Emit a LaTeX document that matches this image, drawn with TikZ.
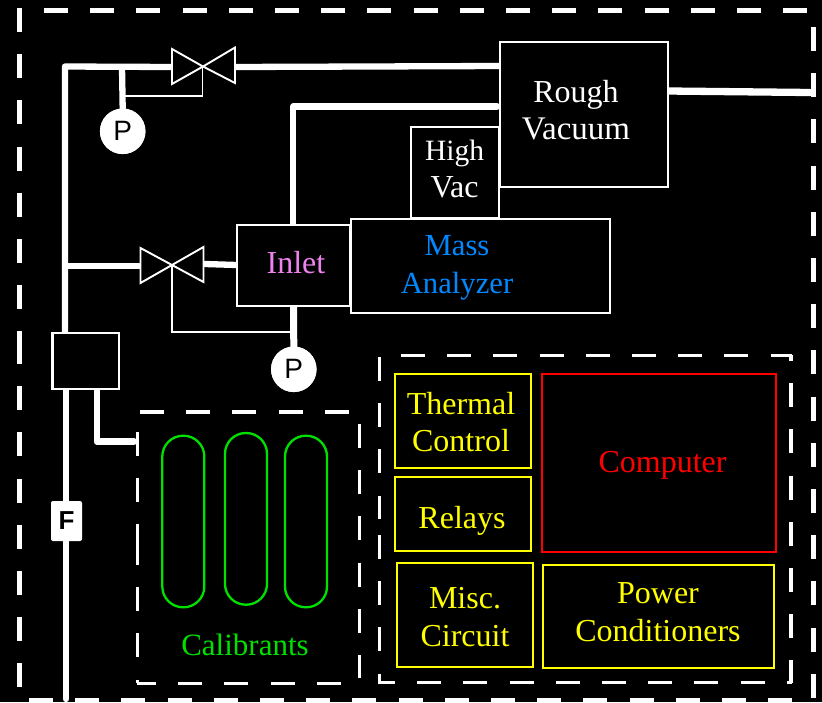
\documentclass[tikz,border=0pt]{standalone}
\usepackage{fontspec}
\setmainfont{Liberation Serif}
\setsansfont{Liberation Sans}
\definecolor{massblue}{RGB}{0,136,255}
\definecolor{inletpink}{RGB}{238,130,238}
\definecolor{calgreen}{RGB}{0,225,0}
\definecolor{yel}{RGB}{255,255,0}
\definecolor{compred}{RGB}{255,0,0}
\begin{document}
\begin{tikzpicture}[x=1pt,y=-1pt,
  box/.style={draw=#1,line width=2.3pt,fill=black,anchor=north west,inner sep=0pt,outer sep=0pt},
  lbl/.style={text=#1,align=center,inner sep=0pt,font=\fontsize{32}{37.5}\selectfont},
  pipe/.style={draw=white,line width=6.3pt,line cap=round,line join=round},
  thin line/.style={draw=white,line width=1.9pt},
  valve/.style={draw=white,line width=1.9pt,line join=miter,fill=black},
  dashline/.style={draw=white,line width=5pt,dash pattern=on 24pt off 22.2pt},
  innerdash/.style={draw=white,line width=3.6pt,dash pattern=on 24pt off 22.2pt},
  gauge/.style={circle,fill=white,draw=none,minimum size=45.5pt,inner sep=0pt,text=black,font=\sffamily\fontsize{28}{28}\selectfont},
  capsule/.style={draw=calgreen,line width=2.3pt,rounded corners=20.8pt}]
\useasboundingbox[fill=black] (0,0) rectangle (822,702);
% outer dashed border
\draw[dashline] (19.5,8) -- (19.5,356);
\draw[dashline] (19.5,340) -- (19.5,688);
\draw[dashline] (44,10.5) -- (808,10.5);
\draw[dashline] (813.3,27) -- (813.3,699);
\draw[dashline] (29,700.5) -- (793,700.5);
% pipes, drawn first so boxes cover the ends
\coordinate (tl) at (65,66.5);
\coordinate (gaugeT) at (122,67);
\coordinate (v1L) at (172,67);
\coordinate (v1R) at (235,67);
\coordinate (rvL) at (500,66);
\coordinate (hvT) at (293.3,106.5);
\coordinate (rvL2) at (497,106.5);
\coordinate (inT) at (293.3,225);
\coordinate (b2) at (65,266);
\coordinate (v2L) at (139,266);
\coordinate (v2R) at (205,264);
\coordinate (inL) at (237,265);
\coordinate (inB) at (293.5,306);
\coordinate (sbT) at (65,333);
\coordinate (sbB) at (66,389);
\coordinate (bot) at (66,699);
\coordinate (sbB2) at (96.7,389);
\coordinate (corner) at (96.7,441.5);
\coordinate (cal) at (134,441.5);
\coordinate (rvR) at (668,91);
\coordinate (ext) at (810,92.5);
\coordinate (v1C) at (202.5,66);
\coordinate (v2C) at (172,265);
\node[gauge] (p1) at (122.7,131.3) {};
\node[gauge] (p2) at (293.8,369.3) {};
\draw[pipe] (sbT) -- (tl) -- (v1L);
\draw[pipe] (gaugeT) -- (p1.north);
\draw[pipe] (v1R) -- (rvL);
\draw[pipe] (rvL2) -- (hvT) -- (inT);
\draw[pipe] (b2) -- (v2L);
\draw[pipe] (v2R) -- (inL);
\draw[pipe,line width=7pt] (inB) -- (p2.north);
\draw[pipe] (sbB) -- (bot);
\draw[pipe] (sbB2) -- (corner) -- (cal);
\draw[pipe,line width=7.3pt] (rvR) -- (ext);
% thin sense lines
\draw[thin line] (125,96) -| (v1C);
\draw[thin line] (v2C) |- (290,331.7);
% valves
\draw[valve] (172,49) -- (203,66.5) -- (172,84) -- cycle;
\draw[valve] (235,47.5) -- (203,66.5) -- (235,83) -- cycle;
\draw[valve] (140.5,248) -- (172,265) -- (140.5,283) -- cycle;
\draw[valve] (203.5,247) -- (172,265) -- (203.5,282) -- cycle;
% gauges on top
\node[gauge] at (p1) {P};
\node[gauge] at (p2) {P};
% main boxes
\node[box=white,minimum width=168pt,minimum height=145pt] (rough) at (500,42) {};
\node[lbl=white] at (576,110) {Rough\\{\fontsize{33}{37.5}\selectfont Vacuum}};
\node[box=white,minimum width=88pt,minimum height=91pt] (hv) at (411,127) {};
\node[lbl=white] at (454.5,169) {{\fontsize{29.5}{37.5}\selectfont High}\\Vac};
\node[box=white,minimum width=259pt,minimum height=94pt] (mass) at (351,219) {};
\node[lbl=massblue,font=\fontsize{30.7}{37.5}\selectfont] at (457,268) {Mass\\Analyzer};
\node[box=white,minimum width=113.5pt,minimum height=81pt] (inlet) at (237,225) {};
\node[lbl=inletpink] at (296,263) {Inlet};
\node[box=white,minimum width=66.5pt,minimum height=56pt] (splitter) at (52.5,333.3) {};
% filter
\node[fill=white,rounded corners=2pt,minimum width=31pt,minimum height=40pt,inner sep=0pt,text=black,font=\sffamily\bfseries\fontsize{26}{26}\selectfont] (filter) at (66.5,521) {F};
% calibrants enclosure
\draw[innerdash] (137.3,432) -- (137.3,548);
\draw[innerdash] (137.3,541) -- (137.3,683.3);
\draw[innerdash] (140,412) -- (349,412);
\draw[innerdash] (359.3,424) -- (359.3,678);
\draw[innerdash,dash phase=5pt] (137,683.3) -- (341,683.3);
\draw[capsule] (162.3,435.7) rectangle (204.3,607.3);
\draw[capsule] (225,433) rectangle (267,604.7);
\draw[capsule] (285,435.7) rectangle (327,607.3);
\node[lbl=calgreen,font=\fontsize{31}{37.5}\selectfont] at (245,645) {Calibrants};
% electronics enclosure
\draw[innerdash] (379.3,357) -- (379.3,519);
\draw[innerdash] (379.3,535) -- (379.3,684);
\draw[innerdash] (401,355.3) -- (792,355.3);
\draw[innerdash,dash phase=18pt] (790.7,355) -- (790.7,683);
\draw[innerdash,dash phase=7pt] (378,682.3) -- (792,682.3);
\node[box=yel,minimum width=136pt,minimum height=94pt] (thermal) at (395,374.3) {};
\node[lbl=yel] at (461,422) {Thermal\\Control};
\node[box=yel,minimum width=136pt,minimum height=74pt] (relays) at (395,476.7) {};
\node[lbl=yel] at (462,521) {Relays};
\node[box=yel,minimum width=136pt,minimum height=104pt] (misc) at (396.7,562.7) {};
\node[lbl=yel] at (465,617) {Misc.\\Circuit};
\node[box=yel,minimum width=231pt,minimum height=103.3pt] (power) at (543,564.7) {};
\node[lbl=yel] at (658,612) {Power\\Conditioners};
\node[box=compred,minimum width=234pt,minimum height=178pt] (computer) at (542.3,374) {};
\node[lbl=compred] at (662.5,465) {Computer};
\end{tikzpicture}
\end{document}
